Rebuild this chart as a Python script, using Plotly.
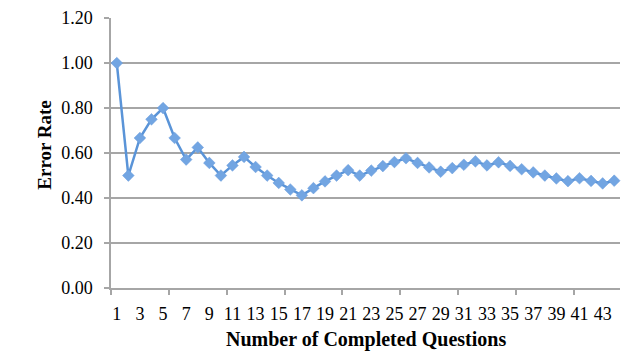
import plotly.graph_objects as go

questions = [1, 2, 3, 4, 5, 6, 7, 8, 9, 10, 11, 12, 13, 14, 15, 16, 17, 18, 19, 20, 21, 22,
             23, 24, 25, 26, 27, 28, 29, 30, 31, 32, 33, 34, 35, 36, 37, 38, 39, 40, 41, 42, 43, 44]
error_rate = [1.00, 0.50, 0.667, 0.75, 0.80, 0.667, 0.571, 0.625, 0.556, 0.50, 0.545, 0.583,
              0.538, 0.50, 0.467, 0.438, 0.412, 0.444, 0.474, 0.50, 0.524, 0.50, 0.522, 0.542,
              0.56, 0.577, 0.556, 0.536, 0.517, 0.533, 0.548, 0.563, 0.545, 0.559, 0.543, 0.528,
              0.514, 0.50, 0.487, 0.475, 0.488, 0.476, 0.465, 0.477]
x_tick_vals = [1, 3, 5, 7, 9, 11, 13, 15, 17, 19, 21, 23, 25, 27, 29, 31, 33, 35, 37, 39, 41, 43]
x_tick_text = [str(v) for v in x_tick_vals]
x_minor_ticks = [0.5, 5.5, 10.5, 15.5, 20.5, 25.5, 30.5, 35.5, 40.5]
y_tick_vals = [0.0, 0.2, 0.4, 0.6, 0.8, 1.0, 1.2]
y_tick_text = ["0.00", "0.20", "0.40", "0.60", "0.80", "1.00", "1.20"]
x_title = "Number of Completed Questions"
y_title = "Error Rate"

serif = "Liberation Serif, Times New Roman, serif"
grid = "#a6a6a6"

fig = go.Figure()
fig.add_trace(go.Scatter(
    x=questions, y=error_rate, mode="lines+markers",
    line=dict(color="#5a94d8", width=2.5),
    marker=dict(symbol="diamond", size=9, color="#72a5e2",
                line=dict(color="#6a9cdc", width=0.5)),
    showlegend=False, cliponaxis=False,
))

fig.update_layout(
    width=628, height=343,
    margin=dict(l=103, r=16, t=10, b=63),
    paper_bgcolor="white", plot_bgcolor="white",
    font=dict(family=serif, size=18, color="black"),
    xaxis=dict(
        range=[0.5, 44.5], tickmode="array", tickvals=x_tick_vals, ticktext=x_tick_text,
        showgrid=False, zeroline=False, showline=True, linecolor=grid, linewidth=1.5,
        ticks="", tickfont=dict(family=serif, size=18), automargin=False,
        ticklabelstandoff=9,
        minor=dict(tickmode="array", tickvals=x_minor_ticks, ticks="outside",
                   ticklen=5, tickcolor=grid, tickwidth=1.5, showgrid=False),
    ),
    yaxis=dict(
        range=[0, 1.2005], tickmode="array", tickvals=y_tick_vals, ticktext=y_tick_text,
        showgrid=True, gridcolor=grid, gridwidth=1.5, zeroline=False,
        showline=True, linecolor=grid, linewidth=1.5,
        ticks="outside", ticklen=5, tickcolor=grid, tickwidth=1.5,
        tickfont=dict(family=serif, size=18), automargin=False,
        ticklabelstandoff=8, ticklabeloverflow="allow",
    ),
    annotations=[
        dict(text="<b>" + x_title + "</b>", xref="paper", yref="paper", x=0.5, y=-0.19,
             xanchor="center", yanchor="middle", showarrow=False,
             font=dict(family=serif, size=20, color="black")),
        dict(text="<b>" + y_title + "</b>", xref="paper", yref="paper", x=-0.13, y=0.53,
             xanchor="center", yanchor="middle", showarrow=False, textangle=-90,
             font=dict(family=serif, size=19, color="black")),
    ],
)

fig.write_html("out.html")
